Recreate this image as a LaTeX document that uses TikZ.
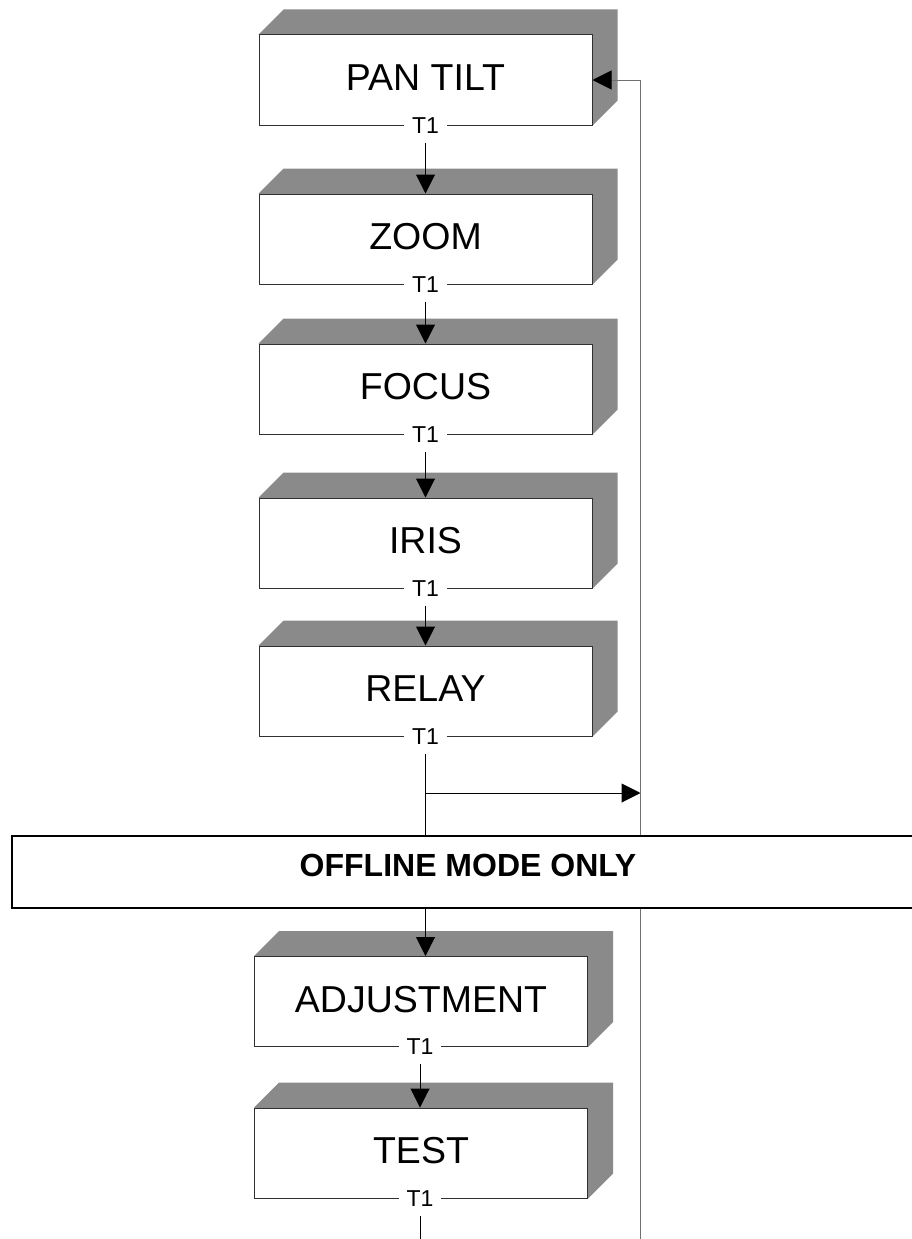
\documentclass[tikz,border=0pt]{standalone}
\usepackage{fontspec}
\setmainfont{Liberation Sans}
\usetikzlibrary{arrows.meta}
\definecolor{shadowgray}{HTML}{8A8A8A}
\definecolor{boxline}{HTML}{303030}
\definecolor{rline}{HTML}{707070}
\pgfdeclarelayer{bg}
\pgfsetlayers{bg,main}
\tikzset{
  stepbox/.style={draw=boxline, fill=white, line width=1pt, minimum width=333pt,
    minimum height=90pt, inner sep=0pt, text depth=5pt,
    font=\fontsize{37.5}{42}\selectfont},
  tlabel/.style={fill=white, inner xsep=8pt, inner ysep=9pt, font=\fontsize{23}{26}\selectfont},
  tip/.style={-{Triangle[length=19pt,width=19pt,color=black]}},
  flow/.style={tip, line width=1pt, draw=black},
  plain/.style={line width=1pt, draw=black},
  feedback/.style={line width=1pt, draw=rline},
  banner/.style={draw=black, line width=1.8pt, fill=white, minimum width=928pt,
    minimum height=72pt, inner sep=0pt},
  bannertext/.style={inner sep=0pt, font=\fontsize{32}{36}\selectfont\bfseries},
  boxshadow/.style={fill=shadowgray},
}
\begin{document}
\begin{tikzpicture}[x=1pt,y=-1pt]
\useasboundingbox (0,0) rectangle (912,1239);
% upper boxes
\node[stepbox] (pan)   at (425.5,80)  {PAN TILT};
\node[stepbox] (zoom)  at (425.5,239) {ZOOM};
\node[stepbox] (focus) at (425.5,389) {FOCUS};
\node[stepbox] (iris)  at (425.5,543) {IRIS};
\node[stepbox] (relay) at (425.5,691) {RELAY};
% lower boxes
\node[stepbox] (adj)   at (421,1001.5) {ADJUSTMENT};
\node[stepbox] (test)  at (421,1153)   {TEST};
% shadows
\begin{pgfonlayer}{bg}
\foreach \b in {pan,zoom,focus,iris,relay,adj,test}{
  \fill[boxshadow] (\b.north west) -- ([shift={(25,-25)}]\b.north west)
    -- ([shift={(25,-25)}]\b.north east) -- ([shift={(25,-25)}]\b.south east)
    -- (\b.south east) -- cycle;
}
\end{pgfonlayer}
% T1 labels
\node[tlabel] (pan-t)   at (pan.south)   {T1};
\node[tlabel] (zoom-t)  at (zoom.south)  {T1};
\node[tlabel] (focus-t) at (focus.south) {T1};
\node[tlabel] (iris-t)  at (iris.south)  {T1};
\node[tlabel] (relay-t) at (relay.south) {T1};
\node[tlabel] (adj-t)   at ([xshift=-1pt]adj.south)  {T1};
\node[tlabel] (test-t)  at ([xshift=-1pt]test.south) {T1};
% banner
\node[banner] (band) at (475.85,872) {};
\node[bannertext] (bandtext) at (468,865) {OFFLINE MODE ONLY};
% connectors
\draw[flow] (pan-t.south) -- (zoom.north);
\draw[flow] (zoom-t.south) -- (focus.north);
\draw[flow] (focus-t.south) -- (iris.north);
\draw[flow] (iris-t.south) -- (relay.north);
\draw[plain] (relay-t.south) -- (relay-t.south |- band.north);
\coordinate (split) at (relay-t.south |- 0,793);
\coordinate (rtop) at (640.5,0 |- band.north);
\coordinate (rbot) at (640.5,1239);
\draw[flow] (split) -- (split -| rtop);
\draw[feedback, tip] (rtop) |- (pan.east);
\draw[flow] (relay-t.south |- band.south) -- (adj.north -| relay-t.south);
\draw[flow] (adj-t.south) -- (test-t.south |- test.north);
\draw[feedback] (rtop |- band.south) -- (rbot);
\draw[plain] (test-t.south) -- (test-t.south |- rbot);
\end{tikzpicture}
\end{document}
